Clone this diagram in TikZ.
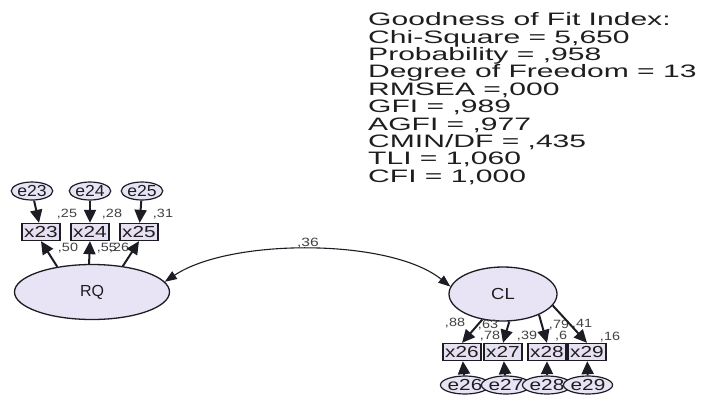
\documentclass[tikz,border=0pt]{standalone}
\usepackage{fontspec}
\usepackage{graphicx}
\setmainfont{Liberation Sans}
\usetikzlibrary{arrows.meta,shapes.geometric}

\definecolor{latfill}{RGB}{233,228,245}
\definecolor{boxfill}{RGB}{230,224,242}
\definecolor{edge}{RGB}{28,28,36}
\definecolor{ink}{RGB}{30,30,30}
\definecolor{numink}{RGB}{65,65,65}

% horizontally widened text
\newcommand{\wide}[2]{\scalebox{#1}[1]{#2}}

\tikzset{
  latent/.style={ellipse, draw=edge, line width=1.3pt, fill=latfill, inner sep=0pt},
  obsbox/.style={rectangle, draw=edge, line width=1.3pt, fill=boxfill, inner sep=0pt,
                 minimum width=38pt, minimum height=17pt, text=ink},
  errA/.style={ellipse, draw=edge, line width=1.2pt, fill=latfill, inner sep=0pt,
               minimum width=27pt, minimum height=18pt, text=ink},
  errB/.style={ellipse, draw=edge, line width=1.2pt, fill=latfill, inner sep=0pt,
               minimum width=39pt, minimum height=18pt, text=ink},
  arr/.style={draw=edge, line width=2pt, -{Triangle[length=13pt,width=12pt]}},
  covarr/.style={draw=edge, line width=1.1pt,
                 {Triangle[length=12pt,width=9pt]}-{Triangle[length=12pt,width=9pt]}},
  est/.style={inner sep=0pt, text=numink, font=\fontsize{12}{12}\selectfont},
}

\begin{document}
\begin{tikzpicture}[x=1pt,y=-1pt]
\useasboundingbox (0,0) rectangle (701,394);

% fit statistics, fixed line pitch
\node[anchor=north west, inner sep=0pt, text=ink] (fit) at (368,12.4) {\wide{1.67}{%
  \fontsize{18}{17.4}\selectfont
  \vbox{\baselineskip=17.4pt \lineskiplimit=-20pt
  \hbox{Goodness of Fit Index:}
  \hbox{Chi-Square = 5,650}
  \hbox{Probability = ,958}
  \hbox{Degree of Freedom = 13}
  \hbox{RMSEA =,000}
  \hbox{GFI = ,989}
  \hbox{AGFI = ,977}
  \hbox{CMIN/DF = ,435}
  \hbox{TLI = 1,060}
  \hbox{CFI = 1,000}}}};

% latent variables
\node[latent, minimum width=155pt, minimum height=55pt] (RQ) at (92,292)
  {\fontsize{16}{16}\selectfont\color{ink}RQ};
\node[latent, minimum width=108pt, minimum height=54pt] (CL) at (503,294)
  {\fontsize{16}{16}\selectfont\color{ink}\wide{1.15}{CL}};

% indicators of RQ
\foreach \n/\x in {23/41,24/90,25/139}{
  \node[obsbox] (x\n) at (\x,232) {\fontsize{16}{16}\selectfont\wide{1.3}{x\n}};
}
\foreach \n/\x in {23/32,24/90,25/142}{
  \node[errA] (e\n) at (\x,191) {\fontsize{16}{16}\selectfont\wide{1.1}{e\n}};
}

% indicators of CL
\foreach \n/\x in {26/462,27/503,28/547,29/587}{
  \node[obsbox] (x\n) at (\x,352) {\fontsize{16}{16}\selectfont\wide{1.3}{x\n}};
}
\foreach \n/\x in {26/465,27/506,28/547,29/588}{
  \node[errB] (e\n) at (\x,385) {\fontsize{16}{16}\selectfont\wide{1.3}{e\n}};
}

% error terms to indicators
\foreach \n in {23,24,25}{ \draw[arr] (e\n) -- (x\n); }
\foreach \n in {26,27,28,29}{ \draw[arr] (e\n) -- (x\n); }

% estimates
\node[est] (r25) at (67,214) {\wide{1.2}{,25}};
\node[est] (r28) at (112,214) {\wide{1.2}{,28}};
\node[est] (r31) at (163,214) {\wide{1.2}{,31}};
\node[est] (l50) at (68,248) {\wide{1.2}{,50}};
\node[est] (l5526) at (113,248) {\wide{1.2}{,55\kern-6.5pt,26}};
\node[est] (c36) at (308,243) {\wide{1.3}{,36}};
\node[est] (l88) at (455,323) {\wide{1.2}{,88}};
\node[est] (l63) at (488,325) {\wide{1.2}{,63}};
\node[est] (r78) at (490,336) {\wide{1.2}{,78}};
\node[est] (r39) at (527,336) {\wide{1.2}{,39}};
\node[est] (l79) at (559,325) {\wide{1.2}{,79}};
\node[est] (l41) at (582,324) {\wide{1.2}{,41}};
\node[est] (r6)  at (561,336) {\wide{1.2}{,6}};
\node[est] (r16) at (610,337) {\wide{1.2}{,16}};

% loadings
\draw[arr] (RQ.144) -- (x23.south);
\draw[arr] (RQ.96)  -- (x24.south);
\draw[arr] (RQ.40)  -- (x25.south);
\draw[arr] (CL.231) -- (x26.north);
\draw[arr] (CL.283) -- (x27.north);
\draw[arr] (CL.330) -- (x28.north);
\draw[arr] (CL.347) -- (x29.north);

% covariance
\draw[covarr] (RQ.8) .. controls (230,238) and (390,238) .. (CL.172);
\end{tikzpicture}
\end{document}
